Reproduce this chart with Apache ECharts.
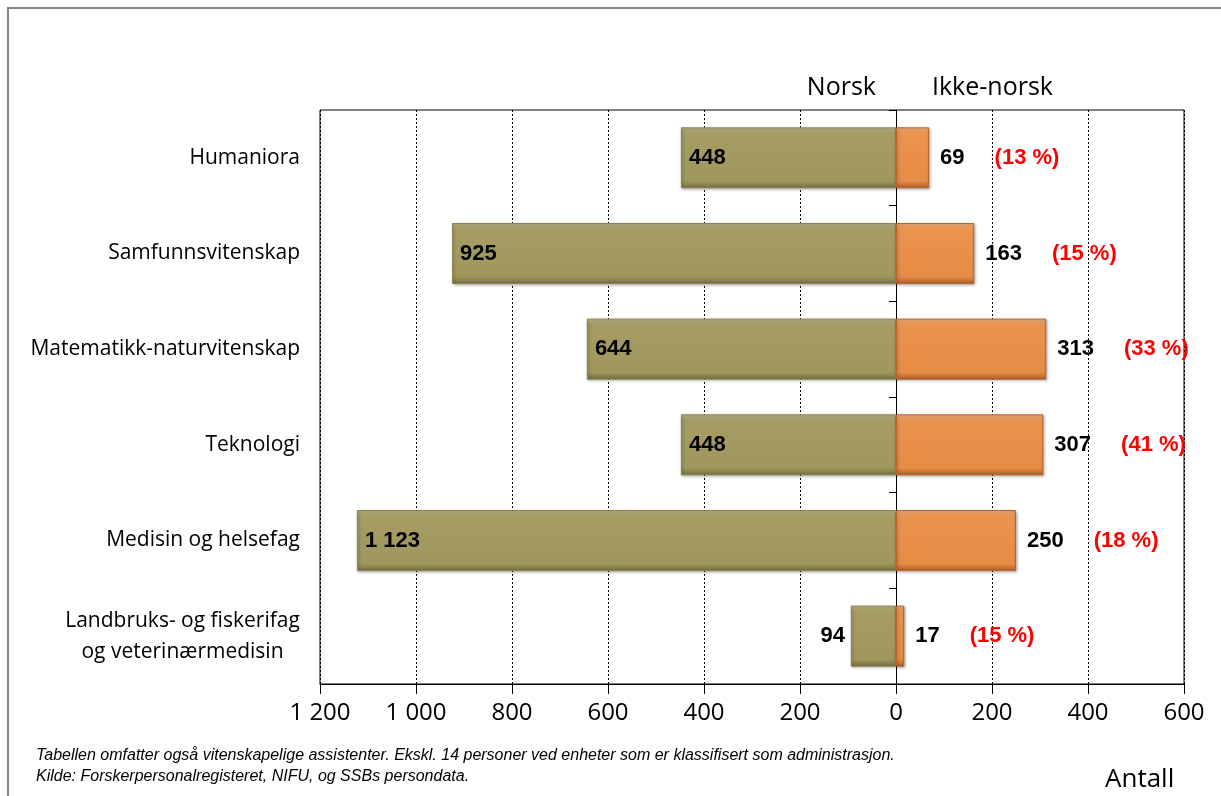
<!DOCTYPE html>
<html>
<head>
<meta charset="utf-8">
<script src="https://cdn.jsdelivr.net/npm/echarts@6/dist/echarts.min.js"></script>
<style>
  html, body { margin: 0; padding: 0; background: #fff; }
  #chart { width: 1221px; height: 796px; }
</style>
</head>
<body>
<div id="chart"></div>
<script>
// ---- data ----
const categories = [
  'Humaniora',
  'Samfunnsvitenskap',
  'Matematikk-naturvitenskap',
  'Teknologi',
  'Medisin og helsefag',
  'Landbruks- og fiskerifag\nog veterinærmedisin'
];
const norsk = [448, 925, 644, 448, 1123, 94];
const ikkeNorsk = [69, 163, 313, 307, 250, 17];
const shareIkkeNorsk = [13, 15, 33, 41, 18, 15]; // percent labels
const xTicks = { min: -1200, max: 600, interval: 200 };
const headerLeft = 'Norsk';
const headerRight = 'Ikke-norsk';
const unitLabel = 'Antall';
const notes = [
  'Tabellen omfatter også vitenskapelige assistenter. Ekskl. 14 personer ved enheter som er klassifisert som administrasjon.',
  'Kilde: Forskerpersonalregisteret, NIFU, og SSBs persondata.'
];

// ---- helpers ----
function fmt(n) {
  return String(Math.abs(Math.round(n))).replace(/\B(?=(\d{3})+(?!\d))/g, ' ');
}
const catFont = '21px "Open Sans"';
function textWidth(t, font) {
  const c = document.createElement('canvas').getContext('2d');
  c.font = font;
  return c.measureText(t).width;
}

const olive = {
  type: 'linear', x: 0, y: 0, x2: 0, y2: 1,
  colorStops: [
    { offset: 0, color: '#C3BC8C' },
    { offset: 0.09, color: '#A59D64' },
    { offset: 0.88, color: '#9F975D' },
    { offset: 1, color: '#756E42' }
  ]
};
const orange = {
  type: 'linear', x: 0, y: 0, x2: 0, y2: 1,
  colorStops: [
    { offset: 0, color: '#F6B684' },
    { offset: 0.09, color: '#EA944F' },
    { offset: 0.88, color: '#E68C45' },
    { offset: 1, color: '#AC5E28' }
  ]
};

const norskData = norsk.map(v => ({
  value: -v,
  label: v < 150 ? { position: 'left', distance: 6 } : {}
}));

const chart = echarts.init(document.getElementById('chart'), null, { renderer: 'canvas' });

chart.setOption({
  animation: false,
  backgroundColor: '#fff',
  grid: {
    left: 320, right: 37, top: 110, bottom: 112,
    show: true, borderColor: '#000', borderWidth: 1, backgroundColor: 'transparent'
  },
  xAxis: {
    type: 'value',
    min: xTicks.min, max: xTicks.max, interval: xTicks.interval,
    axisLine: { show: true, onZero: false, lineStyle: { color: '#000', width: 1 } },
    axisTick: { show: true, length: 10, lineStyle: { color: '#000' } },
    axisLabel: {
      formatter: v => fmt(v),
      fontFamily: 'Open Sans', fontSize: 24, color: '#000', margin: 17
    },
    splitLine: { show: true, lineStyle: { color: '#000', type: [2, 2], width: 1 } }
  },
  yAxis: [
    {
      type: 'category', data: categories, inverse: true, position: 'left',
      axisLine: { show: false, onZero: false },
      axisTick: { show: false },
      axisLabel: {
        margin: 20, color: '#000', fontFamily: 'Open Sans', fontSize: 21, lineHeight: 31,
        formatter: function (v) {
          if (v.indexOf('\n') < 0) return v;
          return v.split('\n').map(l => '{c|' + l + '}').join('\n');
        },
        rich: {
          c: {
            fontFamily: 'Open Sans', fontSize: 21, lineHeight: 31, color: '#000',
            align: 'center',
            width: Math.ceil(textWidth('Landbruks- og fiskerifag', catFont))
          }
        }
      }
    },
    {
      type: 'category', data: categories, inverse: true, position: 'left',
      axisLine: { show: true, onZero: true, lineStyle: { color: '#000', width: 1 } },
      axisTick: { show: true, length: 7, lineStyle: { color: '#000' } },
      axisLabel: { show: false },
      splitLine: { show: false }
    }
  ],
  series: [
    {
      name: headerLeft, type: 'bar', stack: 'total', yAxisIndex: 0,
      barWidth: 61, z: 1,
      data: norskData,
      itemStyle: {
        color: olive, borderColor: '#8C8452', borderWidth: 1,
        shadowColor: 'rgba(0,0,0,0.35)', shadowBlur: 3, shadowOffsetX: 1, shadowOffsetY: 1
      },
      label: {
        show: true, position: 'insideLeft', distance: 8,
        formatter: p => fmt(p.value),
        fontFamily: 'Liberation Sans', fontWeight: 'bold', fontSize: 22, color: '#000'
      }
    },
    {
      name: headerRight, type: 'bar', stack: 'total', yAxisIndex: 0,
      barWidth: 61, z: 1,
      data: ikkeNorsk,
      itemStyle: {
        color: orange, borderColor: '#B8652B', borderWidth: 1,
        shadowColor: 'rgba(0,0,0,0.35)', shadowBlur: 3, shadowOffsetX: 1, shadowOffsetY: 1
      },
      label: {
        show: true, position: 'right', distance: 11,
        formatter: p => '{v|' + fmt(p.value) + '}{p|(' + shareIkkeNorsk[p.dataIndex] + ' %)}',
        rich: {
          v: { fontFamily: 'Liberation Sans', fontWeight: 'bold', fontSize: 22, color: '#000' },
          p: { fontFamily: 'Liberation Sans', fontWeight: 'bold', fontSize: 22, color: '#FF0000', padding: [0, 0, 0, 30] }
        }
      }
    }
  ],
  graphic: [
    {
      type: 'rect', silent: true, z: -10,
      shape: { x: 8, y: 8, width: 1400, height: 1000 },
      style: { fill: 'none', stroke: '#868686', lineWidth: 2 }
    },
    {
      type: 'text', x: 876, y: 88,
      style: { text: headerLeft, align: 'right', verticalAlign: 'middle', fontFamily: 'Open Sans', fontSize: 25, fill: '#000' }
    },
    {
      type: 'text', x: 932, y: 88,
      style: { text: headerRight, align: 'left', verticalAlign: 'middle', fontFamily: 'Open Sans', fontSize: 25, fill: '#000' }
    },
    {
      type: 'text', x: 1105, y: 780,
      style: { text: unitLabel, align: 'left', verticalAlign: 'middle', fontFamily: 'Open Sans', fontSize: 26, fill: '#000' }
    },
    {
      type: 'text', x: 36, y: 756,
      style: { text: notes[0], align: 'left', verticalAlign: 'middle', fontFamily: 'Liberation Sans', fontStyle: 'italic', fontSize: 16, fill: '#000' }
    },
    {
      type: 'text', x: 36, y: 777,
      style: { text: notes[1], align: 'left', verticalAlign: 'middle', fontFamily: 'Liberation Sans', fontStyle: 'italic', fontSize: 16, fill: '#000' }
    }
  ]
});
</script>
</body>
</html>
